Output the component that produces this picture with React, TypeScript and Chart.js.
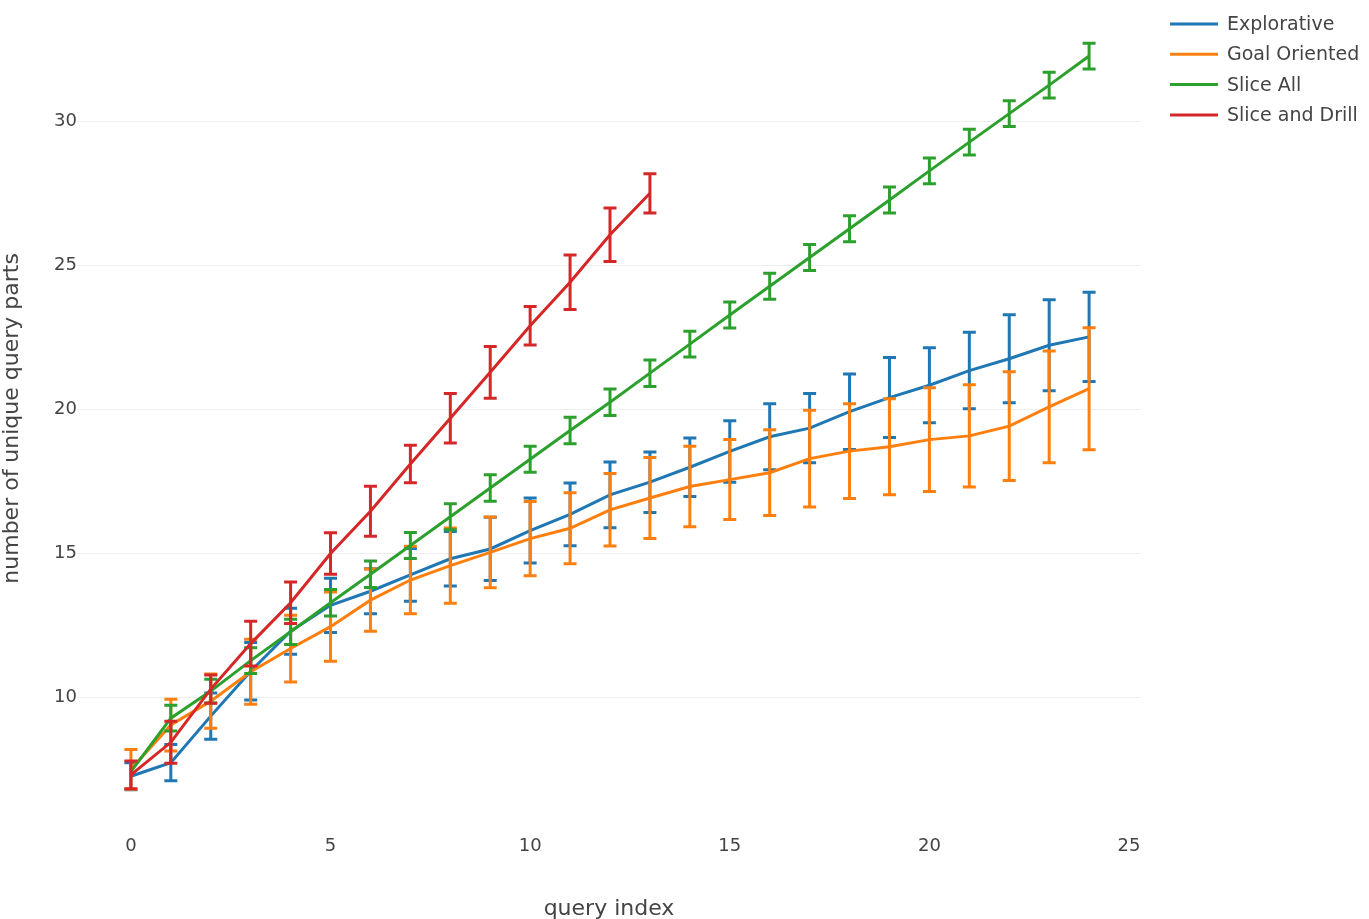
import React, { useEffect, useRef } from "react";
import { Chart, registerables } from "chart.js";

Chart.register(...registerables);

const seriesNames = ["Explorative", "Goal Oriented", "Slice All", "Slice and Drill"];
const seriesColors = ["#1f77b4", "#ff7f0e", "#2ca02c", "#d62728"];

const explorative = [7.25, 7.72, 9.34, 10.9, 12.29, 13.19, 13.68, 14.25, 14.81, 15.15, 15.79, 16.35, 17.03, 17.47, 17.99, 18.54, 19.05, 19.35, 19.92, 20.41, 20.84, 21.35, 21.76, 22.23, 22.52];
const explorativeErr = [0.47, 0.63, 0.8, 1.0, 0.8, 0.94, 0.78, 0.92, 0.95, 1.1, 1.13, 1.09, 1.14, 1.05, 1.02, 1.07, 1.15, 1.2, 1.31, 1.39, 1.3, 1.33, 1.53, 1.58, 1.55];

const goalOriented = [7.49, 9.03, 9.86, 10.88, 11.69, 12.45, 13.37, 14.07, 14.57, 15.03, 15.51, 15.87, 16.51, 16.92, 17.32, 17.56, 17.8, 18.29, 18.55, 18.7, 18.95, 19.08, 19.42, 20.09, 20.72];
const goalOrientedErr = [0.69, 0.9, 0.94, 1.13, 1.16, 1.2, 1.08, 1.17, 1.31, 1.23, 1.29, 1.23, 1.26, 1.41, 1.4, 1.39, 1.49, 1.68, 1.65, 1.67, 1.8, 1.78, 1.89, 1.94, 2.12];

const sliceAll = [7.41, 9.27, 10.21, 11.27, 12.27, 13.28, 14.27, 15.27, 16.27, 17.27, 18.27, 19.27, 20.25, 21.26, 22.27, 23.28, 24.28, 25.28, 26.28, 27.28, 28.29, 29.29, 30.28, 31.27, 32.28];
const sliceAllErr = [0.0, 0.45, 0.41, 0.45, 0.44, 0.46, 0.46, 0.45, 0.45, 0.46, 0.45, 0.46, 0.46, 0.46, 0.45, 0.45, 0.45, 0.45, 0.45, 0.45, 0.45, 0.45, 0.45, 0.45, 0.45];

const sliceAndDrill = [7.3, 8.43, 10.28, 11.86, 13.28, 14.99, 16.46, 18.1, 19.69, 21.29, 22.91, 24.42, 26.07, 27.51];
const sliceAndDrillErr = [0.48, 0.73, 0.49, 0.78, 0.72, 0.72, 0.87, 0.65, 0.86, 0.9, 0.67, 0.95, 0.93, 0.68];

const xTicks = [0, 5, 10, 15, 20, 25];
const yTicks = [10, 15, 20, 25, 30];

const xTitle = "query index";
const yTitle = "number of unique query parts";

const FONT = "'DejaVu Sans', Verdana, sans-serif";
const TEXT = "#444444";

const seriesValues = [explorative, goalOriented, sliceAll, sliceAndDrill];
const seriesErrors = [explorativeErr, goalOrientedErr, sliceAllErr, sliceAndDrillErr];

const errorBarPlugin = {
  id: "errorBars",
  afterDatasetDraw(chart: any, args: any) {
    const ds = chart.data.datasets[args.index];
    const errs: number[] = ds.errors;
    if (!errs) return;
    const xs = chart.scales.x;
    const ys = chart.scales.y;
    const ctx = chart.ctx;
    ctx.save();
    ctx.strokeStyle = ds.borderColor;
    ctx.lineWidth = 3;
    ctx.lineCap = "butt";
    ds.data.forEach((p: any, i: number) => {
      if (!errs[i]) return;
      const px = xs.getPixelForValue(p.x);
      const top = ys.getPixelForValue(p.y + errs[i]);
      const bot = ys.getPixelForValue(p.y - errs[i]);
      ctx.beginPath();
      ctx.moveTo(px, top);
      ctx.lineTo(px, bot);
      ctx.moveTo(px - 6.5, top);
      ctx.lineTo(px + 6.5, top);
      ctx.moveTo(px - 6.5, bot);
      ctx.lineTo(px + 6.5, bot);
      ctx.stroke();
    });
    ctx.restore();
  },
};

const decorPlugin = {
  id: "decor",
  afterDraw(chart: any) {
    const ctx = chart.ctx;
    const area = chart.chartArea;
    ctx.save();
    ctx.fillStyle = TEXT;
    ctx.font = `22px ${FONT}`;
    ctx.textAlign = "center";
    ctx.textBaseline = "alphabetic";
    ctx.fillText(xTitle, (area.left + area.right) / 2, 915);
    ctx.save();
    ctx.translate(17.5, (area.top + area.bottom) / 2);
    ctx.rotate(-Math.PI / 2);
    ctx.fillText(yTitle, 0, 0);
    ctx.restore();

    // legend
    ctx.font = `19px ${FONT}`;
    ctx.textAlign = "left";
    ctx.textBaseline = "middle";
    chart.data.datasets.forEach((ds: any, i: number) => {
      const y = 24 + i * 30.3;
      ctx.strokeStyle = ds.borderColor;
      ctx.lineWidth = 3;
      ctx.beginPath();
      ctx.moveTo(1170, y);
      ctx.lineTo(1218, y);
      ctx.stroke();
      ctx.fillStyle = TEXT;
      ctx.fillText(ds.label, 1227, y + 1);
    });
    ctx.restore();
  },
};

export default function App() {
  const ref = useRef<HTMLCanvasElement | null>(null);

  useEffect(() => {
    document.body.style.margin = "0";
    if (!ref.current) return;
    const datasets = seriesNames.map((name, s) => ({
      label: name,
      data: seriesValues[s].map((v, i) => ({ x: i, y: v })),
      errors: seriesErrors[s],
      borderColor: seriesColors[s],
      backgroundColor: seriesColors[s],
      borderWidth: 3,
      pointRadius: 0,
      tension: 0,
      fill: false,
      order: seriesNames.length - 1 - s,
    }));
    const chart = new Chart(ref.current, {
      type: "line",
      data: { datasets } as any,
      plugins: [errorBarPlugin, decorPlugin],
      options: {
        animation: false,
        responsive: false,
        devicePixelRatio: 1,
        layout: { padding: { top: 10, right: 228, left: 0, bottom: 0 } },
        plugins: { legend: { display: false }, tooltip: { enabled: false } },
        scales: {
          x: {
            type: "linear",
            min: -1.35,
            max: 25.3,
            grid: { display: false },
            border: { display: false },
            afterBuildTicks: (scale: any) => {
              scale.ticks = xTicks.map((v) => ({ value: v }));
            },
            afterFit: (scale: any) => {
              scale.height = 93;
            },
            ticks: {
              color: TEXT,
              font: { family: FONT, size: 18 },
              padding: 2,
              maxRotation: 0,
              autoSkip: false,
            },
          },
          y: {
            type: "linear",
            min: 5.521,
            max: 33.854,
            grid: { color: "#eeeeee", lineWidth: 1, drawTicks: false },
            border: { display: false },
            afterBuildTicks: (scale: any) => {
              scale.ticks = yTicks.map((v) => ({ value: v }));
            },
            afterFit: (scale: any) => {
              scale.width = 77;
            },
            ticks: {
              color: TEXT,
              font: { family: FONT, size: 18 },
              padding: 0,
              autoSkip: false,
            },
          },
        },
      } as any,
    });
    return () => chart.destroy();
  }, []);

  return (
    <div style={{ width: 1369, height: 919, background: "#fff" }}>
      <canvas ref={ref} width={1369} height={919} style={{ display: "block", width: 1369, height: 919 }} />
    </div>
  );
}
